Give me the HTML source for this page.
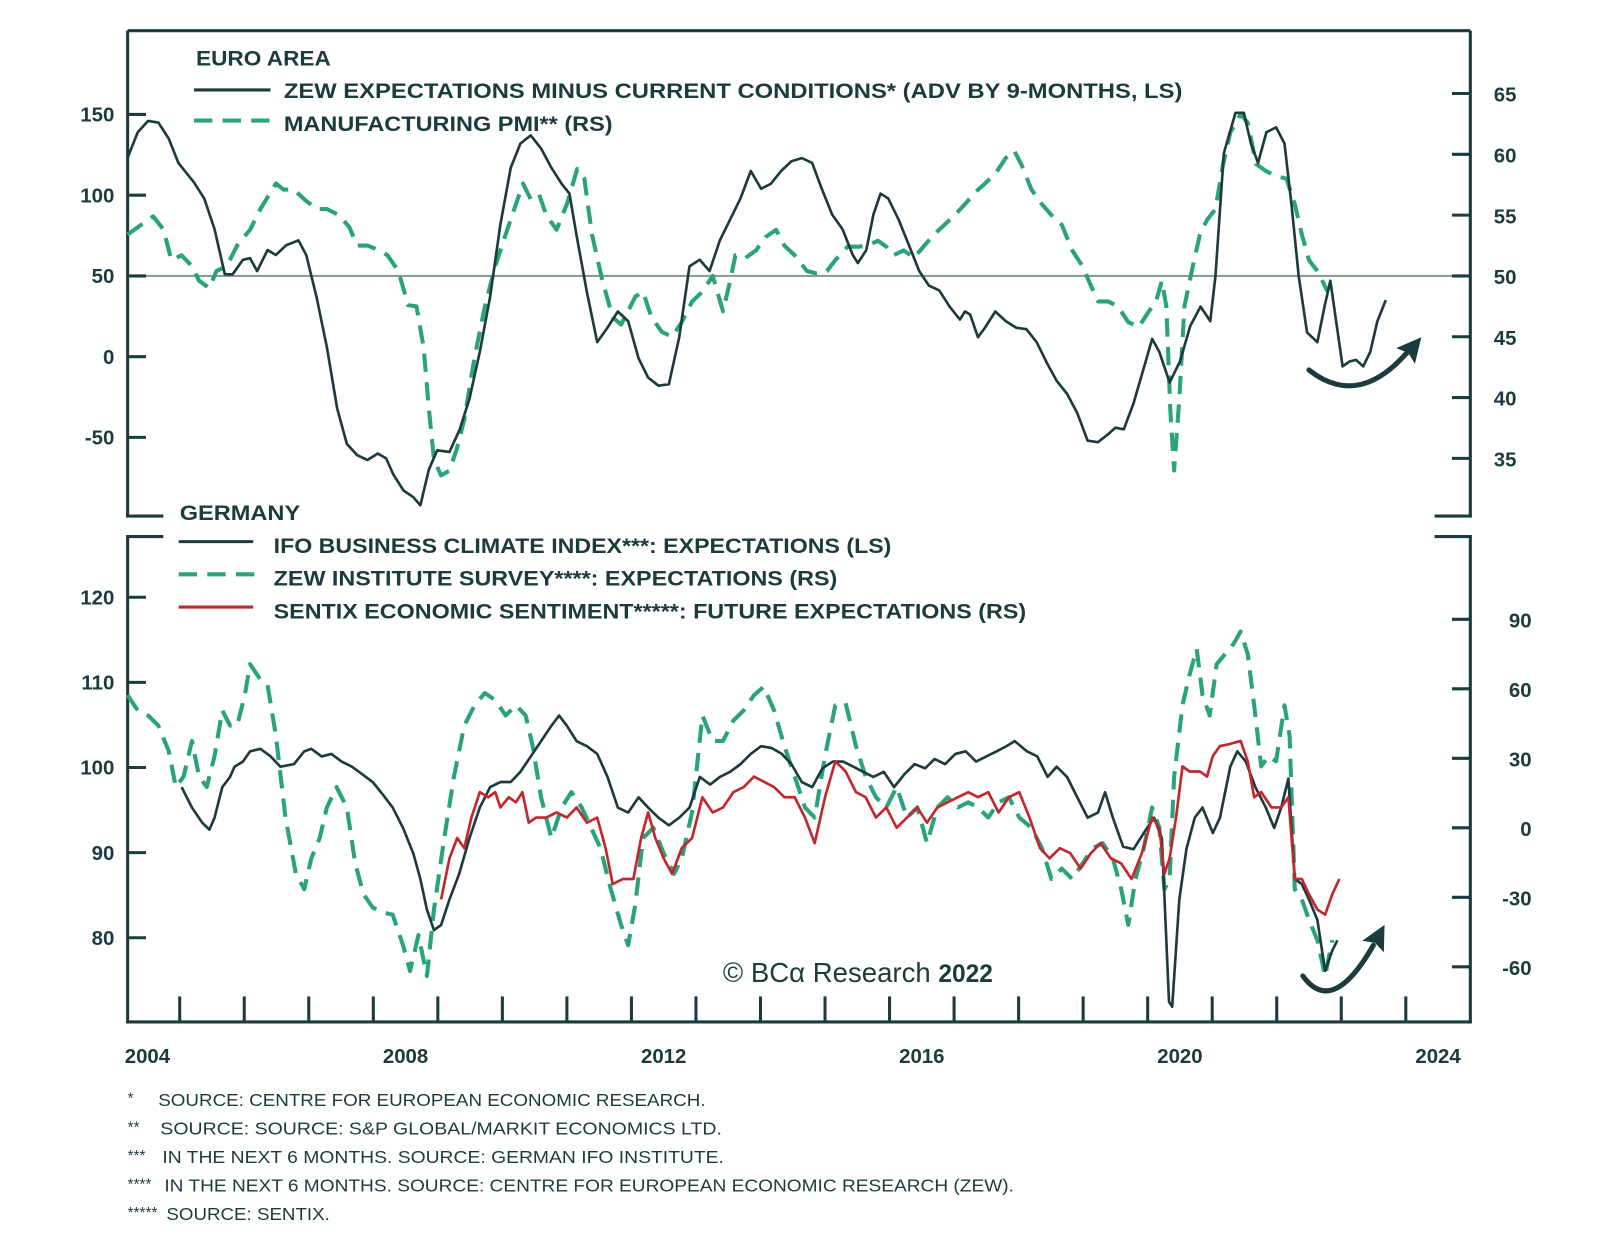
<!DOCTYPE html>
<html><head><meta charset="utf-8"><style>
html,body{margin:0;padding:0;background:#fff}
svg{display:block}
text{font-family:"Liberation Sans",sans-serif;fill:#1c3b3e}
</style></head><body>
<svg id="chart" width="1600" height="1256" viewBox="0 0 1567 1229" preserveAspectRatio="none" xmlns="http://www.w3.org/2000/svg">
<g id="frame"></g>
<g id="series"></g>
<g id="labels"></g>
</svg>
<script>
// dates are years since 2004
const xTickYears=[1,2,3,4,5,6,7,8,9,10,11,12,13,14,15,16,17,18,19,20];
const xLabelYears=[2004,2008,2012,2016,2020,2024];
const topLeftTicks=[150,100,50,0,-50];
const topRightTicks=[65,60,55,50,45,40,35];
const botLeftTicks=[120,110,100,90,80];
const botRightTicks=[90,60,30,0,-30,-60];
const zewEA=[[.19,123],[.35,139],[.51,146],[.67,145],[.83,135],[.98,120],[1.22,108],[1.38,98],[1.54,79],[1.70,51],[1.82,51],[1.98,60],[2.09,61],[2.20,53],[2.36,66],[2.49,63],[2.65,69],[2.84,72],[2.96,63],[3.12,37],[3.28,6],[3.44,-32],[3.59,-54],[3.75,-61],[3.91,-64],[4.07,-60],[4.20,-63],[4.31,-73],[4.47,-83],[4.62,-87],[4.73,-92],[4.86,-70],[4.99,-58],[5.18,-59],[5.34,-45],[5.49,-26],[5.65,3],[5.81,37],[5.97,82],[6.13,117],[6.28,132],[6.44,137],[6.60,129],[6.76,117],[6.92,107],[7.04,101],[7.15,75],[7.31,40],[7.47,9],[7.63,18],[7.79,28],[7.95,22],[8.11,-1],[8.26,-13],[8.42,-18],[8.58,-17],[8.74,12],[8.90,56],[9.06,60],[9.21,53],[9.37,72],[9.53,85],[9.69,98],[9.85,115],[10.01,104],[10.16,107],[10.32,115],[10.48,121],[10.64,123],[10.80,120],[10.95,104],[11.11,88],[11.27,79],[11.43,63],[11.51,58],[11.64,66],[11.75,88],[11.86,101],[11.98,98],[12.14,85],[12.30,69],[12.46,53],[12.61,44],[12.77,41],[12.93,31],[13.09,23],[13.17,28],[13.25,26],[13.37,12],[13.48,18],[13.64,28],[13.80,22],[13.96,18],[14.12,17],[14.28,9],[14.44,-4],[14.59,-15],[14.75,-23],[14.91,-35],[15.07,-52],[15.23,-53],[15.39,-48],[15.50,-44],[15.63,-45],[15.78,-29],[15.94,-7],[16.07,11],[16.18,3],[16.34,-16],[16.50,-3],[16.66,19],[16.82,31],[16.97,22],[17.05,50],[17.18,126],[17.36,151],[17.49,151],[17.60,132],[17.71,120],[17.84,139],[17.99,142],[18.12,132],[18.23,94],[18.34,50],[18.47,15],[18.63,9],[18.74,31],[18.83,47],[18.91,25],[19.02,-6],[19.13,-3],[19.23,-2],[19.34,-6],[19.45,3],[19.56,22],[19.69,35]];
const pmiEA=[[.19,53.4],[.35,54],[.59,54.9],[.75,53.8],[.87,51.3],[1.03,51.7],[1.19,50.8],[1.30,49.6],[1.46,49],[1.57,50.4],[1.73,50.8],[1.89,52.5],[2.09,53.8],[2.25,55.5],[2.49,57.6],[2.61,57.1],[2.77,57.1],[2.93,56.3],[3.12,55.5],[3.28,55.5],[3.47,55],[3.63,54],[3.75,52.5],[3.91,52.5],[4.10,52.1],[4.22,51.7],[4.39,50.4],[4.54,47.6],[4.67,47.5],[4.78,44.1],[4.86,39.1],[4.94,34.9],[5.05,33.6],[5.18,34],[5.29,35.7],[5.41,38.2],[5.57,43.3],[5.73,47.5],[5.89,50.8],[6.05,53.4],[6.21,55.9],[6.32,57.6],[6.44,56.3],[6.57,56.7],[6.68,55],[6.84,53.8],[7.00,55.9],[7.16,58.8],[7.27,58],[7.39,53.4],[7.55,49.6],[7.71,46.6],[7.84,46],[7.95,47.1],[8.06,48.3],[8.18,48.7],[8.31,46.6],[8.47,45.4],[8.63,45],[8.78,46.2],[8.94,47.9],[9.10,48.7],[9.26,50],[9.42,47.1],[9.53,49.6],[9.61,51.7],[9.77,51.5],[9.93,52.1],[10.08,53.2],[10.24,53.8],[10.37,52.5],[10.53,51.7],[10.72,50.4],[10.87,50.2],[11.03,50.4],[11.16,51.3],[11.35,52.4],[11.51,52.4],[11.66,52.5],[11.82,52.9],[11.95,52.4],[12.06,51.7],[12.22,52.1],[12.38,51.5],[12.54,52.5],[12.69,53.4],[12.85,54.2],[13.01,55],[13.17,55.9],[13.33,56.9],[13.48,57.6],[13.64,58.4],[13.80,59.7],[13.93,60.3],[14.04,59.2],[14.20,57.1],[14.36,55.9],[14.51,55],[14.67,54.2],[14.83,52.1],[14.99,50.8],[15.12,49.2],[15.23,47.9],[15.39,47.9],[15.54,47.5],[15.70,46.2],[15.86,45.8],[16.02,47.1],[16.13,47.9],[16.22,49.6],[16.29,47.5],[16.35,39.1],[16.41,34],[16.49,39.9],[16.57,47.5],[16.70,50.8],[16.81,53.4],[16.92,54.6],[17.05,55.5],[17.17,59.2],[17.28,61.8],[17.44,63.3],[17.55,62.6],[17.68,59.2],[17.84,58.6],[18.00,58.2],[18.15,58],[18.28,55.9],[18.39,53.4],[18.50,51.3],[18.63,50.4],[18.79,48.7]];
const ifoDE=[[1.03,97.7],[1.19,95.3],[1.35,93.5],[1.46,92.7],[1.54,94.1],[1.66,97.7],[1.78,98.9],[1.85,100.1],[1.98,100.7],[2.09,101.9],[2.25,102.2],[2.41,101.3],[2.56,100.1],[2.77,100.4],[2.93,101.9],[3.04,102.2],[3.20,101.3],[3.35,101.6],[3.51,100.7],[3.67,100.1],[3.83,99.2],[3.99,98.3],[4.15,96.8],[4.30,95.3],[4.46,92.9],[4.62,89.9],[4.73,86.9],[4.83,83.3],[4.94,80.9],[5.05,81.5],[5.18,84.5],[5.33,87.5],[5.49,91.7],[5.65,95.3],[5.81,97.7],[5.97,98.3],[6.13,98.3],[6.28,99.5],[6.44,101.3],[6.60,103.1],[6.76,104.9],[6.88,106.1],[7.00,104.9],[7.15,103.1],[7.31,102.5],[7.47,101.6],[7.63,98.9],[7.79,95.3],[7.95,94.7],[8.11,96.5],[8.26,95.3],[8.42,94.1],[8.58,93.2],[8.74,94.1],[8.90,95.3],[9.06,98.9],[9.22,98],[9.37,98.9],[9.53,99.5],[9.69,100.4],[9.85,101.6],[10.01,102.5],[10.17,102.3],[10.33,101.6],[10.48,100.4],[10.64,98.3],[10.80,97.7],[10.96,99.9],[11.12,100.7],[11.28,100.7],[11.44,100.1],[11.59,99.5],[11.75,98.9],[11.91,99.5],[12.07,97.7],[12.23,99.2],[12.39,100.4],[12.55,99.9],[12.70,101],[12.86,100.4],[13.02,101.6],[13.18,101.9],[13.34,100.7],[13.50,101.3],[13.66,101.9],[13.81,102.5],[13.94,103.1],[14.13,101.9],[14.29,101.3],[14.45,98.9],[14.59,100.1],[14.75,98.9],[14.91,96.5],[15.07,94.1],[15.23,94.7],[15.34,97.1],[15.46,94.1],[15.62,90.7],[15.78,90.4],[15.94,92.3],[16.10,94.1],[16.22,91.7],[16.33,72.5],[16.38,71.9],[16.49,84.5],[16.60,90.4],[16.73,94.1],[16.85,95.3],[17.01,92.3],[17.12,94.1],[17.28,100.1],[17.39,101.9],[17.52,100.7],[17.67,97.7],[17.83,95.3],[17.96,92.9],[18.07,95.3],[18.18,98.7],[18.28,86.9],[18.39,86.3],[18.50,84.5],[18.63,82.1],[18.75,76.1],[18.86,78.5],[18.94,79.7]];
const zewDE=[[.19,57.3],[.35,50.7],[.51,48.5],[.67,44.1],[.83,33.1],[.94,17.6],[1.06,22.1],[1.19,37.5],[1.30,22.1],[1.42,17.6],[1.54,30.9],[1.66,50.7],[1.78,44.1],[1.89,44.1],[2.01,57.3],[2.09,70.6],[2.25,64],[2.36,61.8],[2.49,39.7],[2.64,4.4],[2.80,-19.9],[2.93,-26.5],[3.04,-13.2],[3.17,-4.4],[3.28,8.8],[3.43,17.6],[3.59,8.8],[3.72,-15.4],[3.85,-28.7],[3.99,-34.4],[4.15,-36.6],[4.30,-37.5],[4.46,-50.7],[4.57,-61.8],[4.70,-46.3],[4.83,-64],[4.94,-35.3],[5.10,-4.4],[5.25,22.1],[5.41,44.1],[5.57,52.9],[5.73,58.2],[5.89,55.1],[6.05,48.5],[6.21,52.9],[6.36,48.5],[6.47,35.3],[6.60,13.2],[6.76,-4.4],[6.92,8.8],[7.07,15.4],[7.23,8.8],[7.36,0.9],[7.52,-8.8],[7.68,-26.5],[7.84,-41.9],[7.95,-50.7],[8.06,-33.1],[8.18,-4.4],[8.34,0],[8.50,-11],[8.66,-19.9],[8.78,-13.2],[8.94,6.6],[9.10,48.5],[9.26,37.5],[9.42,37.5],[9.58,46.3],[9.74,50.7],[9.90,57.3],[10.05,60.9],[10.21,50.7],[10.37,35.3],[10.53,22.1],[10.69,8.8],[10.84,4.4],[11.00,30.9],[11.16,52.9],[11.32,53.8],[11.48,35.3],[11.63,22.1],[11.79,13.2],[11.95,8.8],[12.11,17.6],[12.27,4.4],[12.43,8.8],[12.58,-6.6],[12.74,8.8],[12.90,13.2],[13.06,8.8],[13.22,11],[13.37,8.8],[13.53,4.4],[13.69,11],[13.85,13.2],[14.01,4.4],[14.20,0],[14.36,-8.8],[14.51,-22.1],[14.67,-17.6],[14.83,-22.1],[14.99,-15.4],[15.15,-8.8],[15.30,-6.6],[15.46,-13.2],[15.59,-26.5],[15.70,-41.9],[15.81,-22.1],[15.94,-8.8],[16.07,8.8],[16.18,0],[16.26,-26.5],[16.34,-22.1],[16.41,22.1],[16.54,52.9],[16.65,66.2],[16.76,77.2],[16.85,57.3],[16.96,48.5],[17.07,70.6],[17.20,75],[17.33,79.4],[17.44,84.7],[17.55,75],[17.65,52.9],[17.76,26.5],[17.87,30.9],[17.99,28.7],[18.12,52.9],[18.20,39.7],[18.28,-26.5],[18.39,-30.9],[18.50,-39.7],[18.63,-48.5],[18.75,-64],[18.86,-48.5]];
const sentixDE=[[5.05,-30.9],[5.18,-13.2],[5.30,-4.4],[5.41,-8.8],[5.52,4.4],[5.65,15.4],[5.78,13.2],[5.89,15.4],[5.97,8.8],[6.10,13.2],[6.21,11],[6.31,15.4],[6.41,2.2],[6.52,4.4],[6.68,4.4],[6.84,6.6],[7.00,4.4],[7.15,8.8],[7.31,2.2],[7.47,4.4],[7.60,-8.8],[7.71,-24.3],[7.87,-22.1],[8.03,-22.1],[8.15,-4.4],[8.26,6.6],[8.37,-4.4],[8.50,-13.2],[8.63,-19.9],[8.78,-8.8],[8.94,-4.4],[9.10,13.2],[9.26,6.6],[9.42,8.8],[9.58,15.4],[9.74,17.6],[9.90,22.1],[10.05,19.9],[10.21,17.6],[10.37,13.2],[10.53,13.2],[10.69,4.4],[10.84,-6.6],[11.00,13.2],[11.16,28.7],[11.32,24.3],[11.48,15.4],[11.63,13.2],[11.79,4.4],[11.95,8.8],[12.11,0],[12.27,4.4],[12.43,8.8],[12.58,2.2],[12.74,8.8],[12.90,11],[13.06,13.2],[13.22,15.4],[13.37,13.2],[13.53,15.4],[13.69,6.6],[13.85,13.2],[14.01,15.4],[14.17,4.4],[14.33,-8.8],[14.48,-13.2],[14.64,-8.8],[14.80,-11],[14.96,-17.6],[15.12,-11],[15.27,-6.6],[15.43,-13.2],[15.59,-15.4],[15.75,-22.1],[15.91,-11],[16.07,4.4],[16.18,0],[16.26,-19.9],[16.34,-13.2],[16.44,4.4],[16.54,26.5],[16.65,24.3],[16.81,24.3],[16.92,22.1],[17.01,30.9],[17.12,35.3],[17.28,36.2],[17.44,37.5],[17.55,28.7],[17.65,13.2],[17.76,15.4],[17.92,8.8],[18.07,8.8],[18.18,13.2],[18.28,-22.1],[18.39,-22.1],[18.50,-28.7],[18.63,-35.3],[18.75,-37.5],[18.86,-28.7],[18.97,-22.1]];

const NS="http://www.w3.org/2000/svg";
const DARK="#1c3b3e",GREEN="#2aa37a",RED="#c1272d";
const X=o=>112.8+o*63.2;
const yTL=v=>270-(v-50)*1.58, yTR=v=>270-(v-50)*11.9;
const yBL=v=>751-(v-100)*8.33, yBR=v=>810-v*2.267;
function mk(tag,attrs,parent){const e=document.createElementNS(NS,tag);for(const k in attrs)e.setAttribute(k,attrs[k]);parent.appendChild(e);return e;}
const frame=document.getElementById('frame'),series=document.getElementById('series'),labels=document.getElementById('labels');
function line(x1,y1,x2,y2,w,name,col){const l=mk('line',{x1,y1,x2,y2,stroke:col||DARK,'stroke-width':w},frame);

return l;}
function txt(s,x,y,size,name,opts){const t=mk('text',Object.assign({x,y,'font-size':size,'font-weight':'bold'},opts||{}),labels);t.textContent=s;

return t;}
line(125,30,1440,30,3,'top-panel-top-border');
line(125,30,125,506,3,'top-panel-left-axis');
line(1440,30,1440,506,3,'top-panel-right-axis');
line(123.5,505,160,505,3,'top-panel-left-corner');
line(1405,505,1441.5,505,3,'top-panel-right-corner');
line(123.5,525,160,525,3,'bottom-panel-left-corner');
line(1405,525,1441.5,525,3,'bottom-panel-right-corner');
line(125,525,125,1001,3,'bottom-panel-left-axis');
line(1440,525,1440,1001,3,'bottom-panel-right-axis');
line(123.5,1000,1441.5,1000,3,'x-axis');
line(125,yTL(50),1440,yTL(50),2,'fifty-reference-line','#8c9b9b');
topLeftTicks.forEach(v=>{line(125,yTL(v),143,yTL(v),3,'top-left-tick');txt(String(v),112,yTL(v)+7,20,'top-left-tick-label',{'text-anchor':'end'});});
topRightTicks.forEach(v=>{line(1422,yTR(v),1440,yTR(v),3,'top-right-tick');txt(String(v),1463,yTR(v)+8,20,'top-right-tick-label');});
botLeftTicks.forEach(v=>{line(125,yBL(v),143,yBL(v),3,'bottom-left-tick');txt(String(v),112,yBL(v)+7,20,'bottom-left-tick-label',{'text-anchor':'end'});});
botRightTicks.forEach(v=>{line(1422,yBR(v),1440,yBR(v),3,'bottom-right-tick');txt(String(v),1500,yBR(v)+8,20,'bottom-right-tick-label',{'text-anchor':'end'});});
xTickYears.forEach(o=>line(X(o),975,X(o),1000,3,'x-tick'));
xLabelYears.forEach(y=>txt(String(y),X(y-2004+0.5),1040,20,'x-tick-label',{'text-anchor':'middle'}));
function path(data,xs,ys,col,w,dash,name){const d=data.map((p,i)=>(i?'L':'M')+xs(p[0]).toFixed(1)+' '+ys(p[1]).toFixed(1)).join(' ');
const a={d,fill:'none',stroke:col,'stroke-width':w,'stroke-linejoin':'round'};if(dash)a['stroke-dasharray']=dash;const p=mk('path',a,series);

}
path(pmiEA,X,yTR,GREEN,4,'18 10','pmi-euro-area-line');
path(zewEA,X,yTL,DARK,2.6,null,'zew-euro-area-line');
path(zewDE,X,yBR,GREEN,4,'18 10','zew-germany-line');
path(ifoDE,X,yBL,DARK,2.6,null,'ifo-germany-line');
path(sentixDE,X,yBR,RED,2.6,null,'sentix-germany-line');
const LW={'font-weight':'bold',lengthAdjust:'spacingAndGlyphs'};
txt('EURO AREA',192,64,21,'euro-area-title',Object.assign({textLength:132},LW));
line(190,88,265,88,3,'legend-zew-ea-swatch');
txt('ZEW EXPECTATIONS MINUS CURRENT CONDITIONS* (ADV BY 9-MONTHS, LS)',278,96,21,'legend-zew-ea-label',Object.assign({textLength:880},LW));
mk('line',{x1:190,y1:118,x2:265,y2:118,stroke:GREEN,'stroke-width':4,'stroke-dasharray':'18 10',},frame);
txt('MANUFACTURING PMI** (RS)',278,128,21,'legend-pmi-label',Object.assign({textLength:322},LW));
txt('GERMANY',176,509,21,'germany-title',Object.assign({textLength:118},LW));
line(175,530,248,530,3,'legend-ifo-swatch');
txt('IFO BUSINESS CLIMATE INDEX***: EXPECTATIONS (LS)',268,541,21,'legend-ifo-label',Object.assign({textLength:605},LW));
mk('line',{x1:175,y1:562,x2:250,y2:562,stroke:GREEN,'stroke-width':4,'stroke-dasharray':'18 10',},frame);
txt('ZEW INSTITUTE SURVEY****: EXPECTATIONS (RS)',268,573,21,'legend-zew-de-label',Object.assign({textLength:552},LW));
line(175,594,248,594,3,'legend-sentix-swatch',RED);
txt('SENTIX ECONOMIC SENTIMENT*****: FUTURE EXPECTATIONS (RS)',268,605,21,'legend-sentix-label',Object.assign({textLength:737},LW));
const wm=mk('text',{x:708,y:961,'font-size':27,'font-family':'"Liberation Serif",serif'},labels);


wm.innerHTML='© BCα Research <tspan font-family="Liberation Sans, sans-serif" font-weight="bold" font-size="24">2022</tspan>';
function arrow(d,hx,hy,ang,name){const g=mk('g',{},series);


mk('path',{d,fill:'none',stroke:DARK,'stroke-width':5,'stroke-linecap':'round'},g);
mk('polygon',{points:'0,0 -24,-12 -20,0 -24,12',fill:DARK,transform:`translate(${hx},${hy}) rotate(${ang})`},g);}
arrow('M1282,362 Q1330,400 1378,345',1392,330,-50,'top-turn-arrow');
arrow('M1276,955 Q1305,995 1345,925',1356,905,-62,'bottom-turn-arrow');
const notes=[['*','SOURCE: CENTRE FOR EUROPEAN ECONOMIC RESEARCH.',536],['**','SOURCE: SOURCE: S&P GLOBAL/MARKIT ECONOMICS LTD.',550],['***','IN THE NEXT 6 MONTHS. SOURCE: GERMAN IFO INSTITUTE.',550],['****','IN THE NEXT 6 MONTHS. SOURCE: CENTRE FOR EUROPEAN ECONOMIC RESEARCH (ZEW).',832],['*****','SOURCE: SENTIX.',160]];
const noteX=[155,157,159,161,163];
notes.forEach((n,i)=>{const y=1082+i*28;txt(n[0],125,y-2,15,'footnote-marker',{'font-weight':'normal'});
txt(n[1],noteX[i],y,17,'footnote-text',{textLength:n[2],lengthAdjust:'spacingAndGlyphs','font-weight':'normal'});});
</script>
</body></html>
